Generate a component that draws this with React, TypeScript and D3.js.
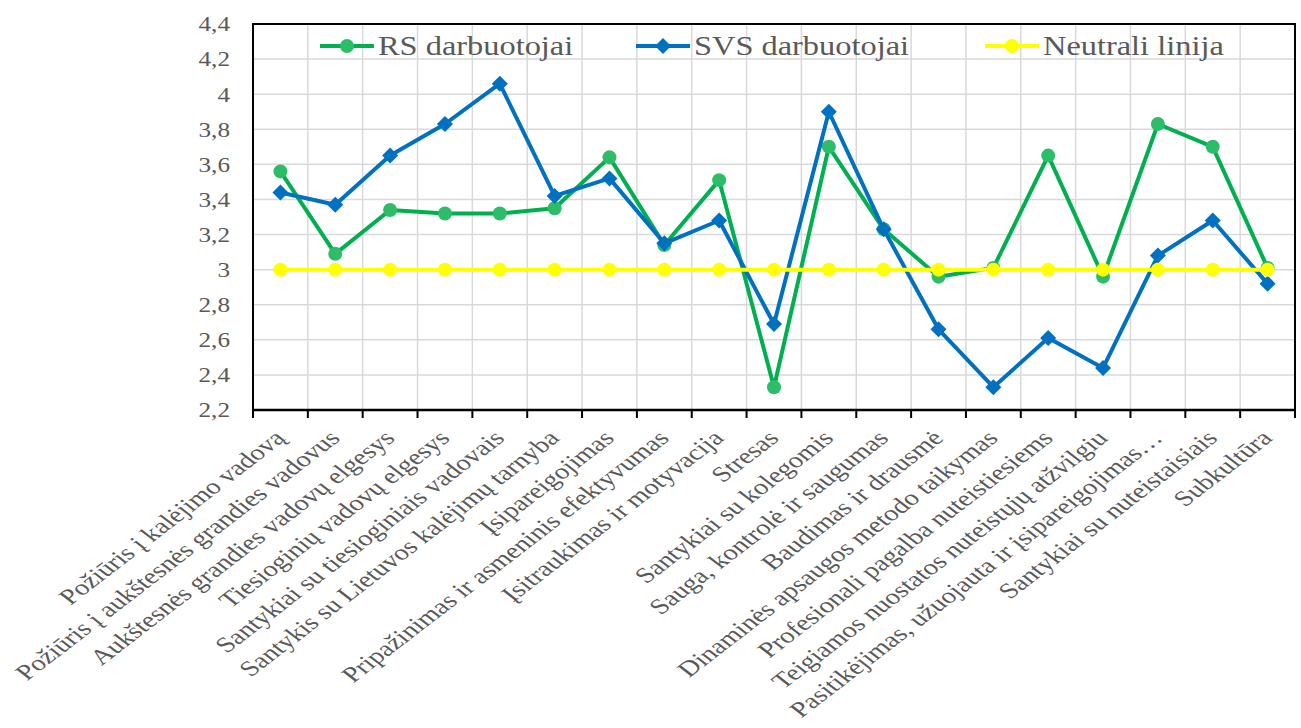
import React from 'react';
import * as d3 from 'd3';

const categories = [
  'Požiūris į kalėjimo vadovą',
  'Požiūris į aukštesnės grandies vadovus',
  'Aukštesnės grandies vadovų elgesys',
  'Tiesioginių vadovų elgesys',
  'Santykiai su tiesioginiais vadovais',
  'Santykis su Lietuvos kalėjimų tarnyba',
  'Įsipareigojimas',
  'Pripažinimas ir asmeninis efektyvumas',
  'Įsitraukimas ir motyvacija',
  'Stresas',
  'Santykiai su kolegomis',
  'Sauga, kontrolė ir saugumas',
  'Baudimas ir drausmė',
  'Dinaminės apsaugos metodo taikymas',
  'Profesionali pagalba nuteistiesiems',
  'Teigiamos nuostatos nuteistųjų atžvilgiu',
  'Pasitikėjimas, užuojauta ir įsipareigojimas…',
  'Santykiai su nuteistaisiais',
  'Subkultūra',
];

const rsValues = [3.56, 3.09, 3.34, 3.32, 3.32, 3.35, 3.64, 3.14, 3.51, 2.33, 3.7, 3.23, 2.96, 3.01, 3.65, 2.96, 3.83, 3.7, 3.01];
const svsValues = [3.44, 3.37, 3.65, 3.83, 4.06, 3.42, 3.52, 3.15, 3.28, 2.69, 3.9, 3.23, 2.66, 2.33, 2.61, 2.44, 3.08, 3.28, 2.92];
const neutralValues = [3, 3, 3, 3, 3, 3, 3, 3, 3, 3, 3, 3, 3, 3, 3, 3, 3, 3, 3];

const yTicks = [2.2, 2.4, 2.6, 2.8, 3, 3.2, 3.4, 3.6, 3.8, 4, 4.2, 4.4];

const seriesNames = ['RS darbuotojai', 'SVS darbuotojai', 'Neutrali linija'];

const W = 1301;
const H = 728;
const left = 253;
const right = 1295;
const top = 24;
const bottom = 410;
const stretch = 1.2; // reference is slightly widened horizontally
const labelStretch = 1.3;
const FONT = "'Liberation Serif', serif";
const TEXT = '#595959';

const GREEN = '#00b050';
const GREEN_MARK = '#2dbd68';
const BLUE = '#0070c0';
const YELLOW = '#ffff00';

export default function App() {
  const x = d3.scaleBand<string>().domain(categories).range([left, right]);
  const y = d3.scaleLinear().domain([2.2, 4.4]).range([bottom, top]);
  const cx = (i: number) => (x(categories[i]) as number) + x.bandwidth() / 2;
  const line = d3
    .line<number>()
    .x((_, i) => cx(i))
    .y((d) => y(d));

  const fmt = (v: number) => String(+v.toFixed(1)).replace('.', ',');
  const diamond = (r: number) => `M0,${-r}L${r},0L0,${r}L${-r},0Z`;

  const boundaries = categories.map((c) => x(c) as number).concat([right]);

  const legendItems = [
    { name: seriesNames[0], x: 320, color: GREEN, mark: 'circle', markColor: GREEN_MARK },
    { name: seriesNames[1], x: 636, color: BLUE, mark: 'diamond', markColor: BLUE },
    { name: seriesNames[2], x: 985, color: YELLOW, mark: 'circle', markColor: YELLOW },
  ];

  return (
    <svg width={W} height={H} style={{ position: 'absolute', left: 0, top: 0, background: '#fff', fontFamily: FONT }}>
      {/* grid */}
      <g stroke="#d9d9d9" strokeWidth={1.5}>
        {yTicks.map((t) => (
          <line key={'h' + t} x1={left} x2={right} y1={y(t)} y2={y(t)} />
        ))}
        {boundaries.map((b, i) => (
          <line key={'v' + i} x1={b} x2={b} y1={top} y2={bottom} />
        ))}
      </g>

      {/* frame */}
      <rect x={left} y={top} width={right - left} height={bottom - top} fill="none" stroke="#000" strokeWidth={2} />
      <line x1={left} x2={right} y1={bottom} y2={bottom} stroke="#000" strokeWidth={2.5} />
      {boundaries.map((b, i) => (
        <line key={'t' + i} x1={b} x2={b} y1={bottom} y2={bottom + 8} stroke="#000" strokeWidth={2} />
      ))}

      {/* y tick labels */}
      {yTicks.map((t) => (
        <text
          key={'yl' + t}
          transform={`translate(230,${y(t)}) scale(${stretch},1)`}
          textAnchor="end"
          dy="0.35em"
          fontSize={21}
          fill={TEXT}
        >
          {fmt(t)}
        </text>
      ))}

      {/* x labels */}
      {categories.map((c, i) => (
        <text
          key={'xl' + i}
          transform={`translate(${cx(i) - 1},${bottom + 24}) scale(${labelStretch},1) rotate(-45)`}
          textAnchor="end"
          dy="0.35em"
          fontSize={22}
          fill={TEXT}
        >
          {c}
        </text>
      ))}

      {/* RS */}
      <path d={line(rsValues) ?? ''} fill="none" stroke={GREEN} strokeWidth={4} strokeLinejoin="round" />
      {rsValues.map((v, i) => (
        <circle key={'rs' + i} cx={cx(i)} cy={y(v)} r={7} fill={GREEN_MARK} />
      ))}

      {/* SVS */}
      <path d={line(svsValues) ?? ''} fill="none" stroke={BLUE} strokeWidth={4} strokeLinejoin="round" />
      {svsValues.map((v, i) => (
        <path key={'svs' + i} d={diamond(8)} transform={`translate(${cx(i)},${y(v)})`} fill={BLUE} />
      ))}

      {/* Neutral */}
      <path d={line(neutralValues) ?? ''} fill="none" stroke={YELLOW} strokeWidth={4} />
      {neutralValues.map((v, i) => (
        <circle key={'n' + i} cx={cx(i)} cy={y(v)} r={7} fill={YELLOW} />
      ))}

      {/* legend */}
      {legendItems.map((it) => (
        <g key={it.name} transform={`translate(${it.x},46)`}>
          <line x1={0} x2={54} y1={0} y2={0} stroke={it.color} strokeWidth={4} />
          {it.mark === 'circle' ? (
            <circle cx={27} cy={0} r={7} fill={it.markColor} />
          ) : (
            <path d={diamond(8)} transform="translate(27,0)" fill={it.markColor} />
          )}
          <text transform={`translate(58,0) scale(${stretch},1)`} dy="0.35em" fontSize={27} fill={TEXT}>
            {it.name}
          </text>
        </g>
      ))}
    </svg>
  );
}
